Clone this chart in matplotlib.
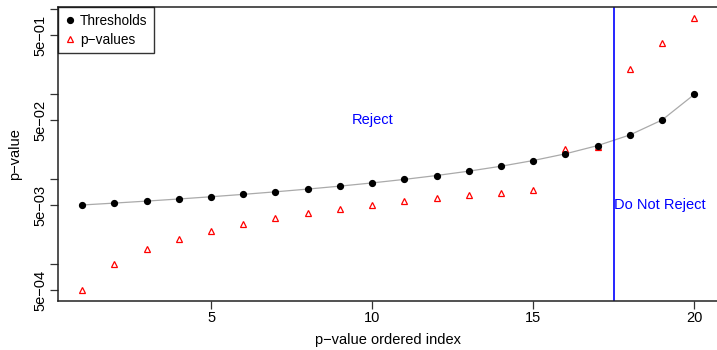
import matplotlib
matplotlib.use("Agg")
import matplotlib.pyplot as plt
from matplotlib.lines import Line2D

plt.rcParams['font.family'] = ['Liberation Sans', 'DejaVu Sans']

index = list(range(1, 21))
thresholds = [0.005, 0.005263, 0.005556, 0.005882, 0.00625, 0.006667, 0.007143,
              0.007692, 0.008333, 0.009091, 0.01, 0.01111, 0.0125, 0.01429,
              0.01667, 0.02, 0.025, 0.03333, 0.05, 0.1]
pvalues = [0.0005, 0.001, 0.0015, 0.002, 0.0025, 0.003, 0.0035, 0.004, 0.0045,
           0.005, 0.0055, 0.006, 0.0065, 0.007, 0.0075, 0.023, 0.024, 0.2, 0.4, 0.8]
cutoff = 17.5

major_ticks = [5e-4, 5e-3, 5e-2, 5e-1]
major_labels = ['5e\u221204', '5e\u221203', '5e\u221202', '5e\u221201']
minor_ticks = [1e-3, 1e-2, 1e-1, 1.0]

W, H = 717, 350
fig = plt.figure(figsize=(W / 100, H / 100), dpi=100)
ax = fig.add_axes([57.7 / W, (H - 301) / H, (718.8 - 57.7) / W, (301 - 7) / H])

ax.plot(index, thresholds, color='#aaaaaa', lw=0.9, zorder=1)
ax.plot(index, thresholds, 'o', color='black', ms=4.2, zorder=3)
ax.plot(index, pvalues, '^', mfc='none', mec='red', ms=5, mew=0.9, zorder=2)
ax.axvline(cutoff, color='blue', lw=1.2)

ax.text(10, 0.05, 'Reject', color='blue', fontsize=10.5, ha='center', va='center')
ax.text(cutoff, 0.005, 'Do Not Reject', color='blue', fontsize=10.5, ha='left', va='center')

ax.set_yscale('log')
ax.set_xlim(0.24, 20.76)
ax.set_ylim(3.71e-4, 1.067)
ax.set_xticks([5, 10, 15, 20])
ax.set_yticks(major_ticks)
ax.set_yticklabels(major_labels, rotation=90, va='center')
ax.set_yticks(minor_ticks, minor=True)
ax.yaxis.set_minor_formatter(plt.NullFormatter())
ax.tick_params(axis='both', which='both', length=5.5, width=0.9, labelsize=10.5, color='#333333')
ax.tick_params(axis='y', which='both', pad=2)
ax.tick_params(axis='x', pad=2)

for s in ax.spines.values():
    s.set_linewidth(1.1)
    s.set_color('#222222')

ax.set_xlabel('p\u2212value ordered index', fontsize=10.5)
ax.set_ylabel('p\u2212value', fontsize=10.5)
ax.yaxis.set_label_coords(-(57.7 - 15) / (718.8 - 57.7), 0.5)
ax.xaxis.set_label_coords(0.5, -(340 - 301) / (301 - 7))
ax.xaxis.label.set_va('center')
ax.yaxis.label.set_va('center')

handles = [
    Line2D([], [], marker='o', ls='none', color='black', ms=4.2),
    Line2D([], [], marker='^', ls='none', mfc='none', mec='red', ms=5, mew=0.9),
]
leg = ax.legend(handles, ['Thresholds', 'p\u2212values'], loc='upper left',
                fontsize=9.8, frameon=True, fancybox=False, borderaxespad=0,
                handlelength=0.8, handletextpad=0.35, borderpad=0.5,
                labelspacing=0.35)
leg.get_frame().set_edgecolor('black')
leg.get_frame().set_linewidth(1.0)

fig.savefig('out.png', dpi=100)
